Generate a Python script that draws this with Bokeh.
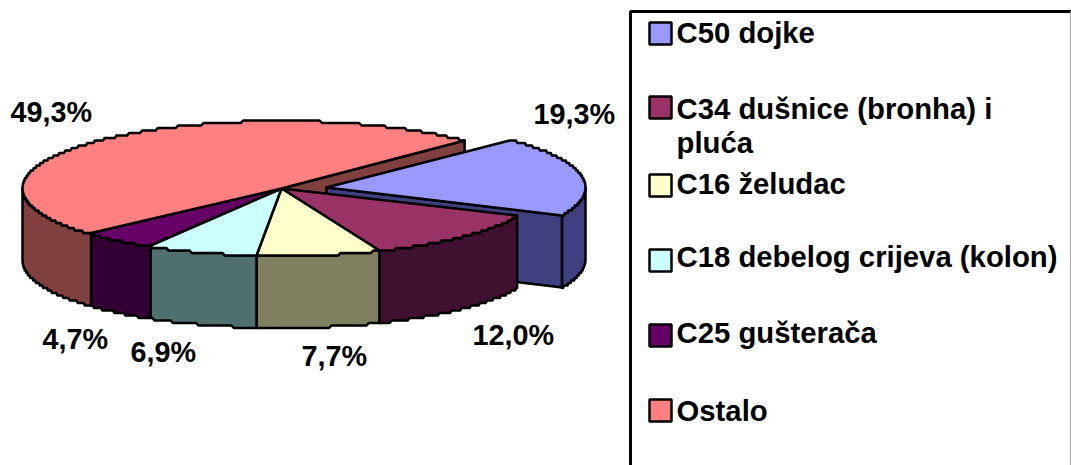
import numpy as np
from bokeh.plotting import figure
from bokeh.models import Range1d
from bokeh.core.properties import value
from bokeh.embed import file_html
from bokeh.resources import INLINE

categories = ["C50 dojke", "C34 dušnice (bronha) i pluća", "C16 želudac",
              "C18 debelog crijeva (kolon)", "C25 gušterača", "Ostalo"]
values = [19.3, 12.0, 7.7, 6.9, 4.7, 49.3]
pct_labels = ["19,3%", "12,0%", "7,7%", "6,9%", "4,7%", "49,3%"]
top_colors = ["#9999FF", "#993366", "#FFFFCC", "#CCFFFF", "#660066", "#FF8080"]
wall_colors = ["#404080", "#401030", "#808060", "#507070", "#330033", "#804040"]

# layout of the pie (pixels of the page)
CX, CY, RX, RY, DEPTH = 281.0, 188.0, 259.0, 67.5, 72.0
START = 45.0
STEP = 2.5   # the reference's rim is drawn in small stair steps
EXPLODE = [(45.0, -1.0), (0, 0), (0, 0), (0, 0), (0, 0), (0, 0)]
FONT = value("Liberation Sans")

p = figure(width=1071, height=465, margin=(0, 0, 0, 0), output_backend="svg",
           toolbar_location=None, x_range=Range1d(0, 1071), y_range=Range1d(465, 0),
           min_border=0, outline_line_color=None, background_fill_color="white")
p.axis.visible = False
p.grid.visible = False


def rim(a0, a1, off, dz=0.0):
    n = max(2, int(abs(a1 - a0)) * 2 + 2)
    t = np.radians(np.linspace(a0, a1, n))
    x = CX + off[0] + RX * np.sin(t)
    y = CY + off[1] + dz - RY * np.cos(t)
    y = np.round(y / STEP) * STEP
    return x.tolist(), y.tolist()


def poly(xs, ys, color):
    p.patch(xs, ys, fill_color=color, line_color="black", line_width=2.5, line_join="round")


def wall(i, a0, a1):
    lo, hi = max(a0, 90.0), min(a1, 270.0)
    if lo < hi:
        x0, y0 = rim(lo, hi, EXPLODE[i])
        x1, y1 = rim(hi, lo, EXPLODE[i], DEPTH)
        poly(x0 + x1, y0 + y1, wall_colors[i])


def top(i, a0, a1):
    x0, y0 = rim(a0, a1, EXPLODE[i])
    ox, oy = EXPLODE[i]
    poly([CX + ox] + x0, [CY + oy] + y0, top_colors[i])


def cut(i, a):
    x0, y0 = rim(a, a, EXPLODE[i])
    ox, oy = EXPLODE[i]
    poly([CX + ox, x0[0], x0[0], CX + ox],
         [CY + oy, y0[0], y0[0] + DEPTH, CY + oy + DEPTH], wall_colors[i])


edges = START + np.cumsum([0.0] + values) * 360.0 / sum(values)
spans = list(zip(edges[:-1], edges[1:]))

cut(5, spans[5][1] % 360)          # face of "Ostalo" left open by the exploded slice
cut(0, spans[0][1])
wall(0, *spans[0])
top(0, *spans[0])
for i in [1, 2, 3, 4, 5]:
    wall(i, *spans[i])
for i in [1, 2, 3, 4, 5]:
    top(i, *spans[i])

# percentage labels
lab_x = [533, 472, 301, 130, 42, 10]
lab_y = [113, 334, 355, 351, 338, 111]
p.text(lab_x, lab_y, text=pct_labels, text_font=FONT, text_font_style="bold",
       text_font_size="28.8px", text_color="black", text_baseline="alphabetic", text_align="left")

# legend box
p.line([630, 630, 1071], [475, 11, 11], line_color="black", line_width=3)
p.line([1070, 1070], [11, 475], line_color="#a0a0a0", line_width=1)

sw_top = [22, 96, 174, 249, 324, 399]
p.quad(left=[649] * 6, right=[671] * 6, top=sw_top, bottom=[y + 22 for y in sw_top],
       fill_color=top_colors, line_color="black", line_width=2.5)

leg_lines = ["C50 dojke", "C34 dušnice (bronha) i", "pluća", "C16 želudac",
             "C18 debelog crijeva (kolon)", "C25 gušterača", "Ostalo"]
leg_y = [32, 108, 142, 183, 256, 332, 410]
p.text([676] * 7, leg_y, text=leg_lines, text_font=FONT, text_font_style="bold",
       text_font_size="29.3px", text_color="black", text_baseline="alphabetic", text_align="left")

open("out.html", "w").write(file_html(p, INLINE))
